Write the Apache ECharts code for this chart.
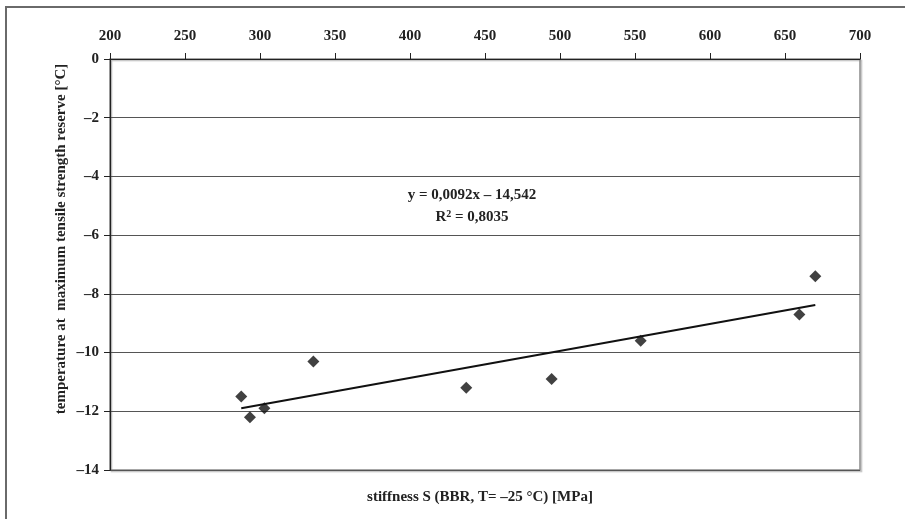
<!DOCTYPE html>
<html>
<head>
<meta charset="utf-8">
<style>
  html, body { margin: 0; padding: 0; background: #fff; }
  #chart { width: 905px; height: 519px; }
</style>
<script src="https://cdn.jsdelivr.net/npm/echarts@6/dist/echarts.min.js"></script>
</head>
<body>
<div id="chart"></div>
<script>
// Stiffness S (BBR, T = -25 °C) in MPa
const stiffness = [287.5, 293.3, 302.9, 335.6, 437.5, 494.4, 553.8, 659.6, 670.2];
// Temperature at maximum tensile strength reserve in °C
const temperature = [-11.5, -12.2, -11.9, -10.3, -11.2, -10.9, -9.6, -8.7, -7.4];
// Linear trend: y = slope * x + intercept
const trendSlope = 0.0092;
const trendIntercept = -14.542;
const rSquared = '0,8035';
const xTicks = [200, 250, 300, 350, 400, 450, 500, 550, 600, 650, 700];
const yTicks = [0, -2, -4, -6, -8, -10, -12, -14];

const FONT = '"Liberation Serif", "Times New Roman", serif';
const points = stiffness.map((x, i) => [x, temperature[i]]);
const xMin = Math.min(...stiffness), xMax = Math.max(...stiffness);
const trend = [xMin, xMax].map(x => [x, trendSlope * x + trendIntercept]);
const dash = v => (v < 0 ? '\u2013' + Math.abs(v) : String(v));

const chart = echarts.init(document.getElementById('chart'), null, { renderer: 'canvas' });
chart.setOption({
  animation: false,
  backgroundColor: '#fff',
  grid: {
    left: 110, right: 45, top: 59, bottom: 49,
    show: true, borderColor: '#8a8a8a', borderWidth: 1.5,
    shadowColor: 'rgba(0,0,0,0.25)', shadowOffsetX: 1.5, shadowOffsetY: 1.5, shadowBlur: 1
  },
  xAxis: {
    type: 'value', position: 'top',
    min: xTicks[0], max: xTicks[xTicks.length - 1], interval: 50,
    axisLine: { show: true, lineStyle: { color: '#222', width: 1.2 } },
    axisTick: { show: true, inside: false, length: 6, lineStyle: { color: '#222' } },
    splitLine: { show: false },
    axisLabel: { margin: 15, color: '#222', fontFamily: FONT, fontWeight: 'bold', fontSize: 15 }
  },
  yAxis: {
    type: 'value',
    min: yTicks[yTicks.length - 1], max: yTicks[0], interval: 2,
    axisLine: { show: true, onZero: false, lineStyle: { color: '#222', width: 1.2 } },
    axisTick: { show: true, inside: false, length: 6, lineStyle: { color: '#222' } },
    splitLine: { show: true, lineStyle: { color: '#555', width: 1 } },
    axisLabel: {
      margin: 11, color: '#222', fontFamily: FONT, fontWeight: 'bold', fontSize: 15,
      formatter: dash
    }
  },
  graphic: [
    // outer frame (top and left edges)
    { type: 'line', shape: { x1: 5, y1: 7, x2: 905, y2: 7 }, style: { stroke: '#6a6a6a', lineWidth: 2 }, silent: true },
    { type: 'line', shape: { x1: 6, y1: 7, x2: 6, y2: 519 }, style: { stroke: '#6a6a6a', lineWidth: 2 }, silent: true },
    // trend equation
    {
      type: 'text', x: 472, y: 195,
      style: {
        text: 'y = 0,0092x \u2013 14,542', x: 0, y: 0,
        font: 'bold 15px ' + FONT, fill: '#222', align: 'center', verticalAlign: 'middle'
      }
    },
    {
      type: 'text', x: 472, y: 217,
      style: {
        text: '{b|R}{s|2}{b| = ' + rSquared + '}', x: 0, y: 0,
        align: 'center', verticalAlign: 'middle',
        rich: {
          b: { font: 'bold 15px ' + FONT, fill: '#222', verticalAlign: 'middle' },
          s: { font: 'bold 10px ' + FONT, fill: '#222', verticalAlign: 'top', padding: [0, 0, 6, 0] }
        }
      }
    },
    // axis titles
    {
      type: 'text', x: 480, y: 497,
      style: {
        text: 'stiffness S (BBR, T= \u201325 \u00b0C) [MPa]', x: 0, y: 0,
        font: 'bold 15px ' + FONT, fill: '#222', align: 'center', verticalAlign: 'middle'
      }
    },
    {
      type: 'text', rotation: Math.PI / 2, x: 61, y: 239,
      style: {
        text: 'temperature at  maximum tensile strength reserve [\u00b0C]', x: 0, y: 0,
        font: 'bold 15px ' + FONT, fill: '#222', align: 'center', verticalAlign: 'middle'
      }
    }
  ],
  series: [
    {
      type: 'line', data: trend, showSymbol: false, symbol: 'none',
      lineStyle: { color: '#111', width: 2 }, z: 3
    },
    {
      type: 'scatter', data: points, symbol: 'diamond', symbolSize: 12,
      itemStyle: { color: '#111' }, z: 4
    }
  ]
});
</script>
</body>
</html>
